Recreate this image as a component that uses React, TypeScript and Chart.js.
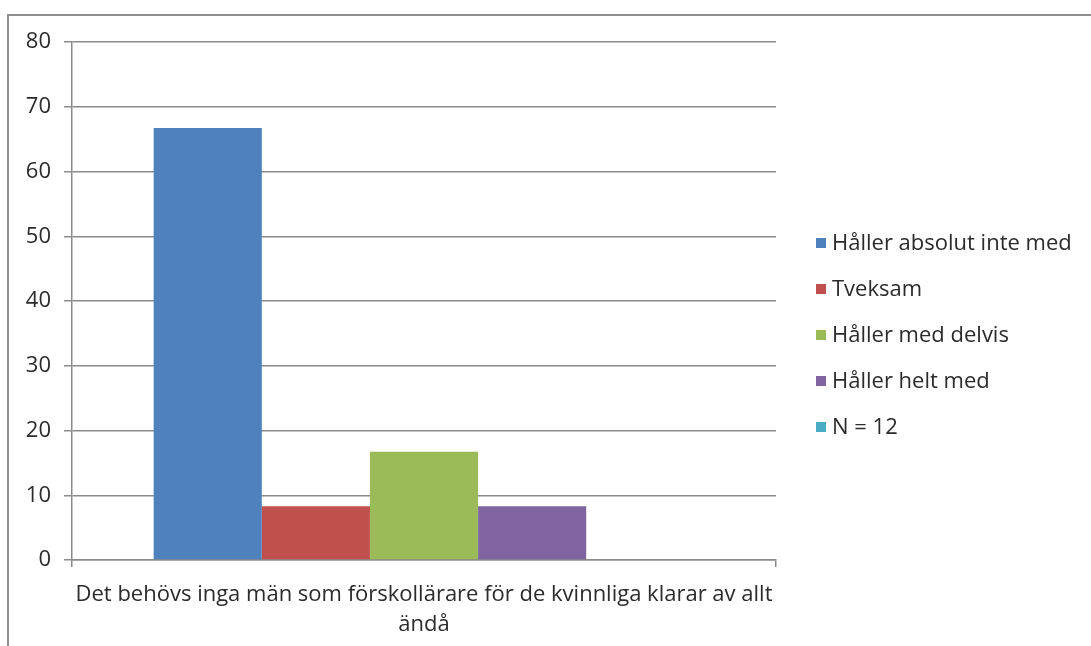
import React, { useEffect, useRef } from "react";
import { Chart, registerables } from "chart.js";

Chart.register(...registerables);

const categories: (string | string[])[] = [
  ["Det behövs inga män som förskollärare för de kvinnliga klarar av allt", "ändå"],
];
const seriesNames = [
  "Håller absolut inte med",
  "Tveksam",
  "Håller med delvis",
  "Håller helt med",
  "N = 12",
];
const seriesValues = [66.7, 8.3, 16.7, 8.3, 0];
const seriesColors = ["#4F81BD", "#C0504D", "#9BBB59", "#8064A2", "#4BACC6"];
const yTicks = [0, 10, 20, 30, 40, 50, 60, 70, 80];

const FONT = "'Open Sans', Lato, sans-serif";
const FONT_SIZE = 22;
const GRID = "#8a8a8a";
const TEXT = "#2b2b2b";

const legendPlugin = {
  id: "customLegend",
  afterDraw(chart: any) {
    const ctx = chart.ctx;
    const area = chart.chartArea;
    const x0 = area.right + 40;
    const yStart = area.top + 201;
    const step = 46;
    ctx.save();
    ctx.font = `${FONT_SIZE}px ${FONT}`;
    ctx.textBaseline = "middle";
    ctx.textAlign = "left";
    chart.data.datasets.forEach((ds: any, i: number) => {
      const y = yStart + i * step;
      ctx.fillStyle = ds.backgroundColor;
      ctx.fillRect(x0, y - 5, 10, 10);
      ctx.fillStyle = TEXT;
      ctx.fillText(ds.label, x0 + 16, y + 1);
    });
    ctx.restore();
  },
};

export default function App() {
  const ref = useRef<HTMLCanvasElement>(null);
  useEffect(() => {
    if (!ref.current) return;
    const chart = new Chart(ref.current, {
      type: "bar",
      data: {
        labels: categories,
        datasets: seriesNames.map((name, i) => ({
          label: name,
          data: [seriesValues[i]],
          backgroundColor: seriesColors[i],
          borderWidth: 0,
          categoryPercentage: 0.768,
          barPercentage: 1,
        })),
      },
      options: {
        animation: false,
        responsive: false,
        maintainAspectRatio: false,
        layout: { padding: { left: 0, top: 42, right: 315, bottom: 0 } },
        plugins: {
          legend: { display: false },
          tooltip: { enabled: false },
        },
        scales: {
          x: {
            offset: true,
            grid: {
              display: true,
              drawOnChartArea: false,
              drawTicks: true,
              tickLength: 7,
              color: GRID,
              lineWidth: 1.5,
            },
            border: { display: true, color: GRID, width: 1.5 },
            ticks: {
              color: TEXT,
              font: { family: FONT, size: FONT_SIZE, lineHeight: 1.4 },
              padding: 12,
              maxRotation: 0,
              autoSkip: false,
            },
            afterFit: (scale: any) => {
              scale.height = 86;
            },
          },
          y: {
            min: 0,
            max: 80,
            afterBuildTicks: (scale: any) => {
              scale.ticks = yTicks.map((v) => ({ value: v }));
            },
            grid: {
              color: GRID,
              lineWidth: 1.5,
              drawTicks: true,
              tickLength: 8,
            },
            border: { display: true, color: GRID, width: 1.5 },
            ticks: {
              color: TEXT,
              font: { family: FONT, size: FONT_SIZE },
              padding: 13,
            },
            afterFit: (scale: any) => {
              scale.width = 72;
            },
          },
        },
      },
      plugins: [legendPlugin],
    });
    return () => chart.destroy();
  }, []);

  return (
    <div
      style={{
        position: "fixed",
        left: 0,
        top: 0,
        width: 1091,
        height: 646,
        overflow: "hidden",
        background: "#ffffff",
      }}
    >
      <div
        style={{
          position: "absolute",
          left: 7,
          top: 14,
          width: 1200,
          height: 800,
          borderLeft: "2px solid #8e8e8e",
          borderTop: "2px solid #8e8e8e",
        }}
      />
      <canvas
        ref={ref}
        width={1091}
        height={646}
        style={{ position: "absolute", left: 0, top: 0, width: 1091, height: 646 }}
      />
    </div>
  );
}
